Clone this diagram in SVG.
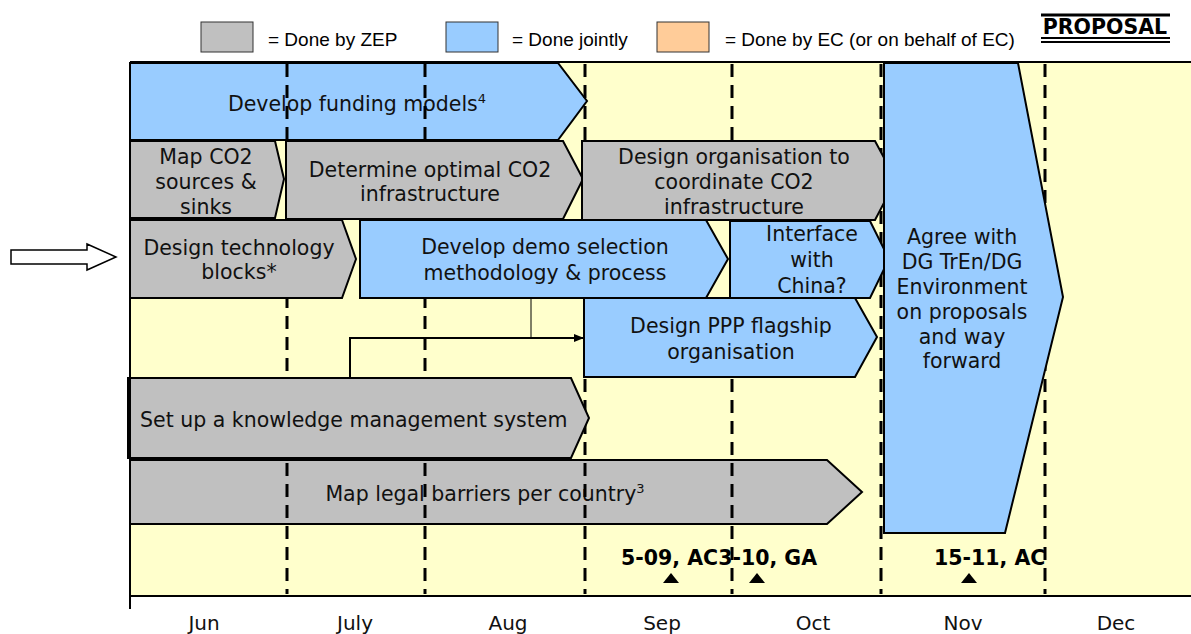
<svg xmlns="http://www.w3.org/2000/svg" width="1191" height="634" viewBox="0 0 1191 634">
  <style>
    .zep { fill: #C0C0C0; stroke: #000; stroke-width: 2; stroke-linejoin: miter; }
    .joint { fill: #99CCFF; stroke: #000; stroke-width: 2; stroke-linejoin: miter; }
    .lbl { font-family: "DejaVu Sans", Verdana, sans-serif; font-size: 20.5px; fill: #111; text-anchor: middle; }
    .lbl-start { text-anchor: start; }
    .sup { font-size: 13px; }
    .leg { font-family: "Liberation Sans", Arial, sans-serif; font-size: 19px; fill: #000; }
    .month { font-family: "DejaVu Sans", Verdana, sans-serif; font-size: 20px; fill: #111; text-anchor: middle; }
    .mile { font-family: "DejaVu Sans", Verdana, sans-serif; font-size: 20.5px; font-weight: bold; fill: #000; }
    .dash { stroke: #000; stroke-width: 3; stroke-dasharray: 13 8; fill: none; }
  </style>
  <defs>
    <marker id="arrowhead" markerWidth="10" markerHeight="10" refX="9" refY="5" orient="auto" markerUnits="userSpaceOnUse">
      <path d="M0,1 L10,5 L0,9 Z" fill="#000"/>
    </marker>
  </defs>

  <rect width="1191" height="634" fill="#fff"/>

  <!-- legend -->
  <g id="legend">
    <rect x="201" y="22" width="52" height="30" fill="#C0C0C0" stroke="#333" stroke-width="1"/>
    <text class="leg" x="268" y="46">= Done by ZEP</text>
    <rect x="446" y="22" width="52" height="30" fill="#99CCFF" stroke="#333" stroke-width="1"/>
    <text class="leg" x="512" y="46">= Done jointly</text>
    <rect x="657" y="22" width="52" height="30" fill="#FFCC99" stroke="#333" stroke-width="1"/>
    <text class="leg" x="725" y="46">= Done by EC (or on behalf of EC)</text>
  </g>
  <g id="proposal">
    <line x1="1041" y1="15" x2="1170" y2="15" stroke="#000" stroke-width="3"/>
    <text x="1105" y="34" font-family="'DejaVu Sans', Verdana, sans-serif" font-size="20.5" font-weight="bold" text-anchor="middle" fill="#000">PROPOSAL</text>
    <line x1="1041" y1="38" x2="1170" y2="38" stroke="#000" stroke-width="2"/>
    <line x1="1041" y1="42" x2="1170" y2="42" stroke="#000" stroke-width="2"/>
  </g>

  <!-- timeline background -->
  <rect x="130" y="62" width="1061" height="534" fill="#FFFFCC"/>
  <line x1="130" y1="62" x2="1191" y2="62" stroke="#000" stroke-width="2"/>

  <!-- milestones (beneath the month dividers) -->
  <g id="milestones">
    <text class="mile" x="621" y="565">5-09, AC3-10, GA</text>
    <text class="mile" x="934" y="565">15-11, AC</text>
    <polygon points="663,583 671,573 679,583" fill="#000"/>
    <polygon points="749,583 757,573 765,583" fill="#000"/>
    <polygon points="961,583 969,573 977,583" fill="#000"/>
  </g>

  <!-- bars under the month dividers -->
  <g id="funding">
    <polygon class="joint" points="130,63 558,63 587,101 558,140 130,140"/>
    <text class="lbl" x="357" y="111">Develop funding models<tspan class="sup" dy="-8">4</tspan></text>
  </g>
  <g id="legal">
    <polygon class="zep" points="130,460 827,460 862,492 827,524 130,524"/>
    <text class="lbl" x="485" y="501">Map legal barriers per country<tspan class="sup" dy="-8">3</tspan></text>
  </g>

  <!-- month dividers -->
  <g id="dividers">
    <line class="dash" x1="287" y1="64" x2="287" y2="594"/>
    <line class="dash" x1="425" y1="64" x2="425" y2="594"/>
    <line class="dash" x1="585" y1="64" x2="585" y2="594"/>
    <line class="dash" x1="732" y1="64" x2="732" y2="594"/>
    <line class="dash" x1="881" y1="64" x2="881" y2="594" stroke-width="4"/>
    <line class="dash" x1="1045" y1="64" x2="1045" y2="594"/>
  </g>

  <g id="map-co2">
    <polygon class="zep" points="130,141 275,141 284,179 275,218 130,218"/>
    <text class="lbl" x="206" y="164">Map CO2</text>
    <text class="lbl" x="206" y="189">sources &amp;</text>
    <text class="lbl" x="206" y="214">sinks</text>
  </g>
  <g id="optimal">
    <polygon class="zep" points="286,141 563,141 583,179 563,219 286,219"/>
    <text class="lbl" x="430" y="177">Determine optimal CO2</text>
    <text class="lbl" x="430" y="201">infrastructure</text>
  </g>
  <g id="coordinate">
    <polygon class="zep" points="582,141 875,141 896,180 875,220 582,220"/>
    <text class="lbl" x="734" y="164">Design organisation to</text>
    <text class="lbl" x="734" y="189">coordinate CO2</text>
    <text class="lbl" x="734" y="214">infrastructure</text>
  </g>
  <g id="tech-blocks">
    <polygon class="zep" points="130,220 342,220 356,259 342,298 130,298"/>
    <text class="lbl" x="239" y="255">Design technology</text>
    <text class="lbl" x="239" y="279">blocks*</text>
  </g>
  <g id="demo-selection">
    <polygon class="joint" points="360,220 706,220 728,259 706,298 360,298"/>
    <text class="lbl" x="545" y="254">Develop demo selection</text>
    <text class="lbl" x="545" y="280">methodology &amp; process</text>
  </g>
  <g id="china">
    <polygon class="joint" points="730,221 870,221 889,259 870,298 730,298"/>
    <text class="lbl" x="812" y="241">Interface</text>
    <text class="lbl" x="812" y="267">with</text>
    <text class="lbl" x="812" y="293">China?</text>
  </g>
  <g id="ppp">
    <polygon class="joint" points="584,298 855,298 877,337 855,377 584,377"/>
    <text class="lbl" x="731" y="333">Design PPP flagship</text>
    <text class="lbl" x="731" y="359">organisation</text>
  </g>
  <g id="knowledge">
    <polygon class="zep" points="128,378 571,378 589,418 571,458 128,458"/>
    <text class="lbl lbl-start" x="140" y="427">Set up a knowledge management system</text>
  </g>
  <g id="agree">
    <polygon class="joint" points="884,63 1018,63 1063,297 1005,533 884,533"/>
    <text class="lbl" x="962" y="244">Agree with</text>
    <text class="lbl" x="962" y="269">DG TrEn/DG</text>
    <text class="lbl" x="962" y="294">Environment</text>
    <text class="lbl" x="962" y="319">on proposals</text>
    <text class="lbl" x="962" y="344">and way</text>
    <text class="lbl" x="962" y="368">forward</text>
  </g>

  <!-- connectors -->
  <g id="connectors" fill="none" stroke="#000">
    <line x1="531" y1="298" x2="531" y2="338" stroke-width="1"/>
    <polyline points="350,378 350,338 583,338" stroke-width="2" marker-end="url(#arrowhead)"/>
  </g>

  <!-- entry arrow -->
  <g id="entry-arrow">
    <polygon points="11,250 87,250 87,244 116,257 87,270 87,264 11,264" fill="#fff" stroke="#000" stroke-width="1.5"/>
  </g>

  <!-- axes -->
  <g id="axes" stroke="#000">
    <line x1="130" y1="62" x2="130" y2="609" stroke-width="2"/>
    <line x1="130" y1="596" x2="1191" y2="596" stroke-width="2"/>
  </g>
  <g id="months">
    <text class="month" x="204" y="630">Jun</text>
    <text class="month" x="355" y="630">July</text>
    <text class="month" x="508" y="630">Aug</text>
    <text class="month" x="662" y="630">Sep</text>
    <text class="month" x="813" y="630">Oct</text>
    <text class="month" x="963" y="630">Nov</text>
    <text class="month" x="1116" y="630">Dec</text>
  </g>
</svg>
